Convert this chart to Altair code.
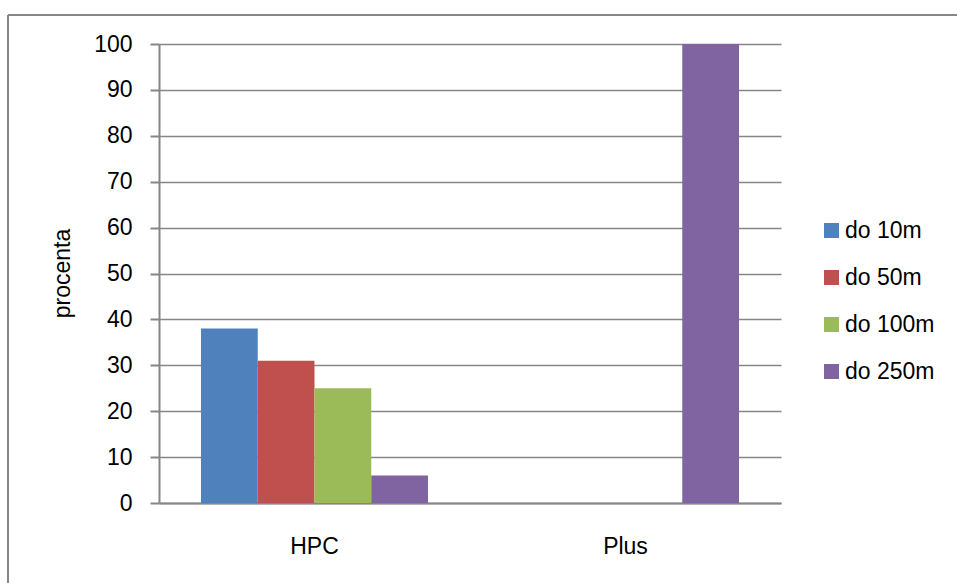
import altair as alt
import pandas as pd

categories = ["HPC", "Plus"]
series = ["do 10m", "do 50m", "do 100m", "do 250m"]
hpc_values = [38, 31, 25, 6]
plus_values = [0, 0, 0, 100]
colors = ["#4F81BD", "#C0504D", "#9BBB59", "#8064A2"]
y_ticks = [0, 10, 20, 30, 40, 50, 60, 70, 80, 90, 100]

rows = []
for cat, vals in zip(categories, [hpc_values, plus_values]):
    for s, v in zip(series, vals):
        rows.append({"kategorie": cat, "vzdalenost": s, "procenta": v})
df = pd.DataFrame(rows)

FONT = "Liberation Sans"
GRID = "#868686"

bars = alt.Chart(df).mark_bar().encode(
    x=alt.X("kategorie:N", sort=categories,
            scale=alt.Scale(paddingInner=0.27, paddingOuter=0.135),
            axis=alt.Axis(title=None, labelAngle=0, ticks=False, labelPadding=32,
                          domainColor=GRID, domainWidth=2, labelFontSize=23,
                          labelFont=FONT, labelColor="#000000", grid=False)),
    xOffset=alt.XOffset("vzdalenost:N", sort=series,
                        scale=alt.Scale(domain=series, paddingInner=0, paddingOuter=0)),
    y=alt.Y("procenta:Q",
            scale=alt.Scale(domain=[0, 100], nice=False),
            axis=alt.Axis(title="procenta", values=y_ticks, tickSize=9, tickColor=GRID,
                          tickWidth=2, labelPadding=18, domainColor=GRID, domainWidth=2,
                          gridColor=GRID, gridWidth=1.5, grid=True,
                          labelFontSize=23, labelFont=FONT, labelColor="#000000",
                          titleFontSize=23, titleFont=FONT, titleFontWeight="normal",
                          titleColor="#000000", titleX=-97, titleY=229,
                          titleAngle=270, titleAlign="center", titleBaseline="middle")),
    color=alt.Color("vzdalenost:N", sort=series,
                    scale=alt.Scale(domain=series, range=colors),
                    legend=alt.Legend(title=None, orient="none", legendX=661, legendY=175,
                                      symbolType="square", symbolSize=225,
                                      symbolStrokeWidth=0, labelFontSize=23,
                                      labelFont=FONT, labelColor="#000000",
                                      rowPadding=23, labelOffset=2)),
)

border_left = alt.Chart(df).mark_rule(color=GRID, strokeWidth=2).encode(
    x=alt.value(-151), y=alt.value(-29), y2=alt.value(540))
border_top = alt.Chart(df).mark_rule(color=GRID, strokeWidth=2).encode(
    x=alt.value(-151), x2=alt.value(798), y=alt.value(-29))

chart = alt.layer(bars, border_left, border_top).properties(
    width=622, height=459,
    autosize=alt.AutoSizeParams(type="none"),
    padding={"left": 159, "top": 44, "right": 176, "bottom": 80},
    background="#ffffff",
).configure_view(stroke=None)

chart.save("out.html", embed_options={"renderer": "svg", "actions": False})
